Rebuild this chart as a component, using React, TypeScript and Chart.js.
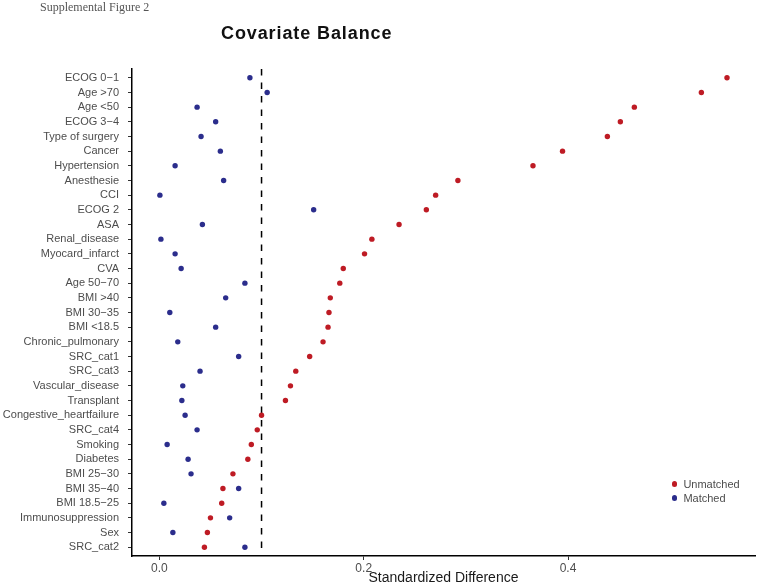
import React, { useEffect, useRef } from "react";
import { Chart, registerables } from "chart.js";

Chart.register(...registerables);

const categories = [
  "ECOG 0−1", "Age >70", "Age <50", "ECOG 3−4", "Type of surgery", "Cancer",
  "Hypertension", "Anesthesie", "CCI", "ECOG 2", "ASA", "Renal_disease",
  "Myocard_infarct", "CVA", "Age 50−70", "BMI >40", "BMI 30−35", "BMI <18.5",
  "Chronic_pulmonary", "SRC_cat1", "SRC_cat3", "Vascular_disease", "Transplant",
  "Congestive_heartfailure", "SRC_cat4", "Smoking", "Diabetes", "BMI 25−30",
  "BMI 35−40", "BMI 18.5−25", "Immunosuppression", "Sex", "SRC_cat2",
];

const unmatched = [
  0.5556, 0.5305, 0.4649, 0.4512, 0.4385, 0.3946,
  0.3657, 0.2922, 0.2704, 0.2613, 0.2346, 0.208,
  0.2008, 0.18, 0.1766, 0.1673, 0.166, 0.1651,
  0.1602, 0.1471, 0.1335, 0.1283, 0.1234,
  0.1, 0.0958, 0.09, 0.0866, 0.072,
  0.0622, 0.061, 0.05, 0.047, 0.0441,
];

const matched = [
  0.0886, 0.1055, 0.0369, 0.0551, 0.0408, 0.0597,
  0.0154, 0.0629, 0.0005, 0.151, 0.0421, 0.0015,
  0.0154, 0.0213, 0.0837, 0.0649, 0.0102, 0.0551,
  0.018, 0.0776, 0.0398, 0.0229, 0.022,
  0.0252, 0.0369, 0.0076, 0.0281, 0.031,
  0.0776, 0.0044, 0.0688, 0.0132, 0.0837,
];

const threshold = 0.1;
const xTicks = [0, 0.2, 0.4];
const xMin = -0.0268;
const xMax = 0.583;

const RED = "#BE1B24";
const BLUE = "#2B2D8C";
const FONT = "'Liberation Sans', Arial, Helvetica, sans-serif";

export default function App() {
  const ref = useRef<HTMLCanvasElement | null>(null);

  useEffect(() => {
    if (!ref.current) return;
    const yMin = -0.6;
    const yMax = categories.length - 1 + 0.6;
    const chart = new Chart(ref.current, {
      type: "scatter",
      data: {
        datasets: [
          {
            label: "Unmatched",
            data: unmatched.map((v, i) => ({ x: v, y: i })),
            backgroundColor: RED,
            borderWidth: 0,
            pointRadius: 2.7,
          },
          {
            label: "Matched",
            data: matched.map((v, i) => ({ x: v, y: i })),
            backgroundColor: BLUE,
            borderWidth: 0,
            pointRadius: 2.7,
          },
          {
            label: "threshold",
            data: [
              { x: threshold, y: yMin },
              { x: threshold, y: yMax },
            ],
            showLine: true,
            borderColor: "#000",
            borderWidth: 1.5,
            borderDash: [6.5, 7],
            pointRadius: 0,
          },
        ],
      },
      options: {
        animation: false,
        responsive: false,
        maintainAspectRatio: false,
        layout: { padding: { top: 69, left: 0, right: 2, bottom: 0 } },
        plugins: {
          legend: { display: false },
          tooltip: { enabled: false },
          title: { display: false },
        },
        scales: {
          x: {
            type: "linear",
            min: xMin,
            max: xMax,
            afterBuildTicks: (scale: any) => {
              scale.ticks = xTicks.map((v) => ({ value: v }));
            },
            afterFit: (scale: any) => {
              scale.height = 29;
            },
            grid: {
              drawOnChartArea: false,
              drawTicks: true,
              tickLength: 4,
              tickColor: "#333",
            },
            border: { display: true, color: "#000", width: 1.5 },
            ticks: {
              padding: 1,
              color: "#4d4d4d",
              font: { family: FONT, size: 12 },
              callback: (v: any) => Number(v).toFixed(1),
            },
            title: {
              display: true,
              text: "Standardized Difference",
              color: "#1a1a1a",
              font: { family: FONT, size: 14 },
              padding: { top: 0, bottom: -2 },
            },
          },
          y: {
            type: "linear",
            reverse: true,
            min: yMin,
            max: yMax,
            afterBuildTicks: (scale: any) => {
              scale.ticks = categories.map((_, i) => ({ value: i }));
            },
            afterFit: (scale: any) => {
              scale.width = 132;
            },
            grid: {
              drawOnChartArea: false,
              drawTicks: true,
              tickLength: 4,
              tickColor: "#333",
            },
            border: { display: true, color: "#000", width: 1.5 },
            ticks: {
              autoSkip: false,
              padding: 9,
              color: "#4d4d4d",
              font: { family: FONT, size: 11 },
              callback: (v: any) => categories[Math.round(Number(v))] ?? "",
            },
          },
        },
      },
    });
    return () => chart.destroy();
  }, []);

  const legendItems = [
    { label: "Unmatched", color: RED, top: 484 },
    { label: "Matched", color: BLUE, top: 498 },
  ];

  return (
    <div
      style={{
        position: "absolute",
        left: 0,
        top: 0,
        width: 759,
        height: 585,
        background: "#fff",
        overflow: "hidden",
      }}
    >
      <canvas ref={ref} width={759} height={585} style={{ width: 759, height: 585, display: "block" }} />
      <div
        style={{
          position: "absolute",
          left: 40,
          top: 0,
          fontFamily: "'Liberation Serif', 'Times New Roman', serif",
          fontSize: 12,
          lineHeight: "15px",
          color: "#555",
          whiteSpace: "nowrap",
        }}
      >
        Supplemental Figure 2
      </div>
      <div
        style={{
          position: "absolute",
          left: 221,
          top: 23,
          fontFamily: FONT,
          fontWeight: "bold",
          fontSize: 18,
          letterSpacing: "0.9px",
          lineHeight: "20px",
          color: "#111",
          whiteSpace: "nowrap",
        }}
      >
        Covariate Balance
      </div>
      {legendItems.map((it) => (
        <div
          key={it.label}
          style={{
            position: "absolute",
            left: 672,
            top: it.top - 7,
            height: 14,
            display: "flex",
            alignItems: "center",
            fontFamily: FONT,
            fontSize: 11,
            color: "#4d4d4d",
            whiteSpace: "nowrap",
          }}
        >
          <span
            style={{
              display: "inline-block",
              width: 5.4,
              height: 5.4,
              borderRadius: "50%",
              background: it.color,
              marginRight: 6,
            }}
          />
          {it.label}
        </div>
      ))}
    </div>
  );
}
